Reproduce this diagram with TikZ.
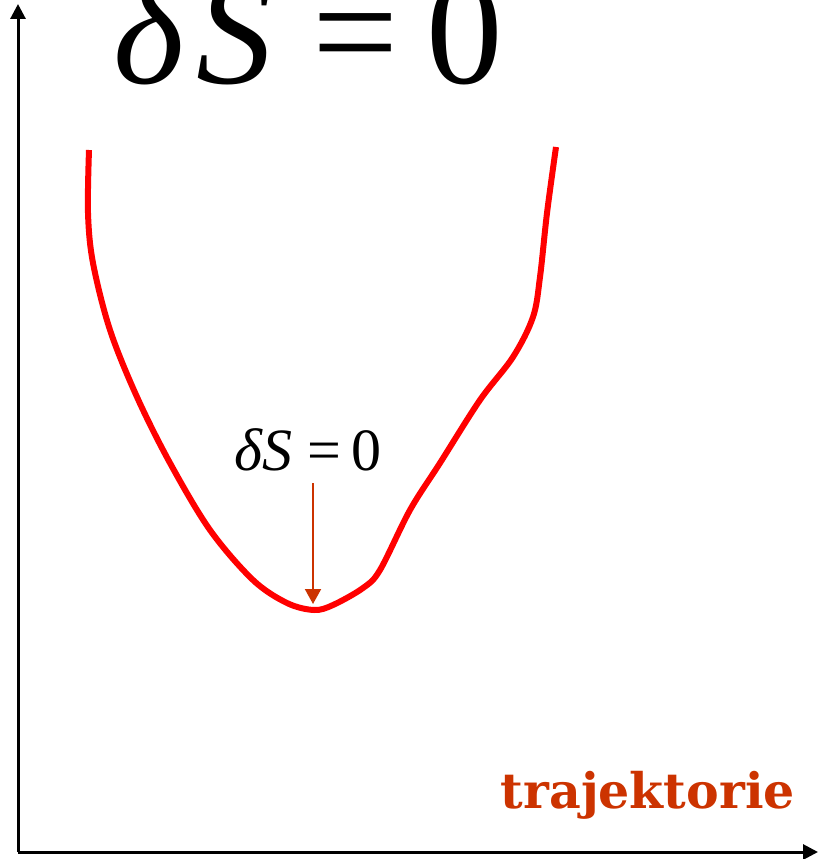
\documentclass[tikz,border=0pt]{standalone}
\usepackage{fontspec}
\setmainfont{Liberation Serif}
\newfontfamily\slabfont{DejaVu Serif}
\usetikzlibrary{positioning, arrows.meta}
\definecolor{trajred}{RGB}{204,51,0}

\begin{document}
\begin{tikzpicture}[
x=1pt, y=-1pt,
axis/.style={-{Triangle[length=15pt, width=15pt]}, line width=3pt},
actioncurve/.style={red, line width=6pt},
marker/.style={-{Triangle[length=15pt, width=16pt]}, trajred, line width=2pt},
eqbig/.style={anchor=base, inner sep=0pt, font=\fontsize{153}{153}\selectfont},
eqsmall/.style={anchor=base, inner sep=2pt, font=\fontsize{60}{60}\selectfont},
axislabel/.style={anchor=base east, inner sep=0pt, text=trajred, font=\slabfont\bfseries\fontsize{49}{49}\selectfont}
]
\useasboundingbox (0,0) rectangle (823,859);

% axes
\coordinate (origin) at (18,852);
\coordinate (ytop) at (18,4);
\coordinate (xend) at (818,852);
\draw[axis] (origin) -- (ytop);
\draw[axis] (origin) -- (xend);

% labels
\node[eqbig] (eq_top) at (308,83) {\textit{δ\hspace{0.08em}S}\hspace{0.26em}=\hspace{0.18em}0};
\node[eqsmall] (eq_min) at (308,470) {\textit{δS}\hspace{0.25em}=\hspace{0.18em}0};
\node[axislabel] (traj) at (795,808) {trajektorie};

% action along trajectories
\draw[actioncurve] plot[smooth, tension=0.55] coordinates {
(89,150) (88,213) (93,263) (110,330) (137,397) (170,463) (210,530)
(253,580) (287,603) (314,610) (333,605) (363,588) (380,570) (410,510)
(440,463) (480,400) (513,357) (533,317) (540,277) (547,213) (556,147)};

% stationary point
\coordinate (vmin) at (313,604);
\draw[marker] (vmin |- 0,483) -- (vmin);

\end{tikzpicture}
\end{document}
